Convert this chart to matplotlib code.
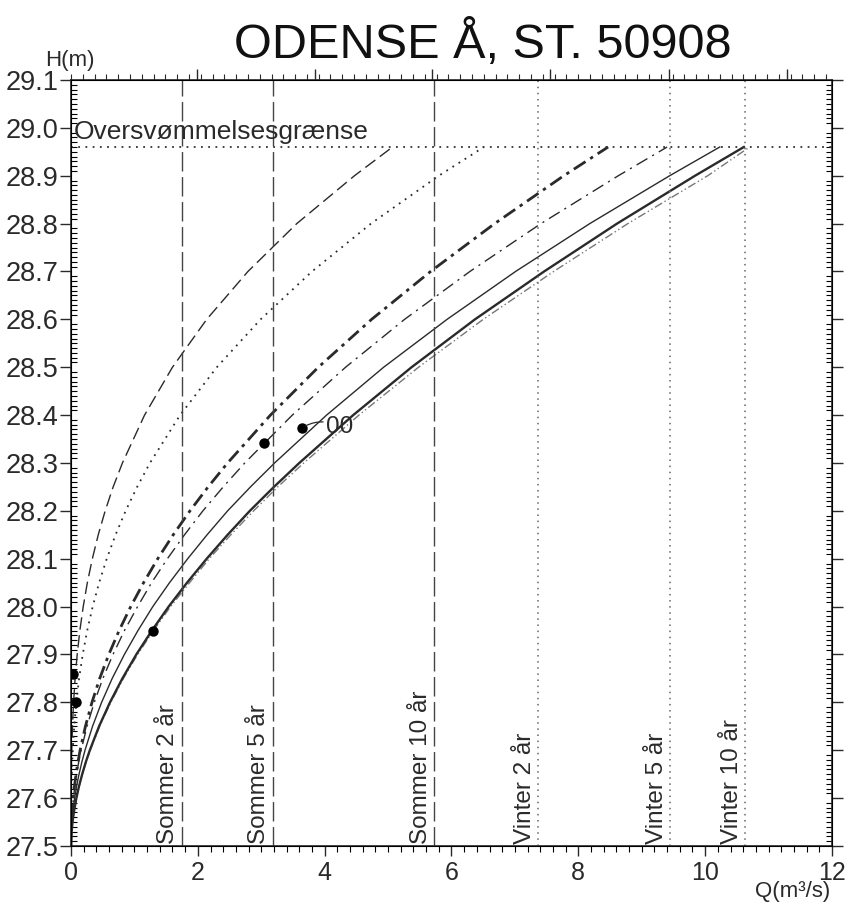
import matplotlib
matplotlib.use('Agg')
import matplotlib.pyplot as plt
from matplotlib.ticker import MultipleLocator, FixedLocator, FormatStrFormatter

plt.rcParams['font.family'] = ['Liberation Sans', 'DejaVu Sans']

h_levels = [27.5, 27.51, 27.525, 27.55, 27.575, 27.6, 27.625, 27.65, 27.675,
            27.7, 27.75, 27.8, 27.85, 27.9, 27.95, 28.0, 28.05, 28.1, 28.15,
            28.2, 28.25, 28.3, 28.4, 28.5, 28.6, 28.7, 28.8, 28.9, 28.96]

# discharge (m3/s) of each curve at those levels
q_dashed = [0, 0, 0, 0, 0.0006, 0.001, 0.0028, 0.005, 0.0079,
            0.012, 0.023, 0.041, 0.065, 0.098, 0.140, 0.193, 0.258, 0.337, 0.430,
            0.539, 0.665, 0.811, 1.16, 1.60, 2.14, 2.79, 3.56, 4.47, 5.07]
q_dotted = [0, 0, 0.0001, 0.001, 0.0019, 0.004, 0.0076, 0.013, 0.019,
            0.028, 0.051, 0.084, 0.128, 0.185, 0.256, 0.342, 0.444, 0.564, 0.703,
            0.862, 1.043, 1.245, 1.72, 2.30, 2.99, 3.80, 4.73, 5.80, 6.51]
q_dashdot_thick = [0, 0.0003, 0.0021, 0.008, 0.019, 0.035, 0.055, 0.080, 0.109,
                   0.144, 0.228, 0.331, 0.453, 0.596, 0.759, 0.942, 1.145, 1.368, 1.612,
                   1.876, 2.162, 2.469, 3.145, 3.90, 4.74, 5.67, 6.68, 7.77, 8.47]
q_dashdot_thin = [0, 0.0003, 0.0023, 0.009, 0.021, 0.039, 0.061, 0.089, 0.121,
                  0.160, 0.253, 0.367, 0.503, 0.662, 0.843, 1.05, 1.271, 1.52, 1.79,
                  2.08, 2.40, 2.74, 3.49, 4.33, 5.26, 6.29, 7.41, 8.63, 9.40]
q_solid_thin = [0, 0.0007, 0.004, 0.015, 0.033, 0.058, 0.089, 0.127, 0.171,
                0.221, 0.340, 0.483, 0.650, 0.842, 1.056, 1.29, 1.554, 1.84, 2.146,
                2.47, 2.83, 3.21, 4.03, 4.93, 5.93, 7.01, 8.18, 9.44, 10.23]
q_solid_thick = [0, 0.0013, 0.007, 0.024, 0.051, 0.085, 0.127, 0.177, 0.233,
                 0.297, 0.443, 0.615, 0.811, 1.03, 1.276, 1.54, 1.83, 2.14, 2.47,
                 2.82, 3.20, 3.60, 4.45, 5.37, 6.37, 7.46, 8.61, 9.84, 10.61]
q_dashdotdot = [0, 0.0013, 0.0071, 0.025, 0.052, 0.087, 0.130, 0.180, 0.238,
                0.303, 0.452, 0.627, 0.827, 1.05, 1.30, 1.57, 1.87, 2.18, 2.52,
                2.88, 3.26, 3.67, 4.54, 5.48, 6.50, 7.61, 8.78, 10.04, 10.70]

# measured points
obs_q = [0.03, 0.08, 1.29, 3.04, 3.64]
obs_h = [27.86, 27.80, 27.95, 28.342, 28.373]

# design discharges
design_labels = ['Sommer 2 år', 'Sommer 5 år', 'Sommer 10 år',
                 'Vinter 2 år', 'Vinter 5 år', 'Vinter 10 år']
design_q = [1.75, 3.18, 5.73, 7.37, 9.45, 10.63]

flood_level = 28.96

fig = plt.figure(figsize=(8.47, 9.08), dpi=100)
ax = fig.add_axes([0.0838, 0.0683, 0.8985, 0.8436])

ink = '#2a2a2a'
ax.plot(q_dashed, h_levels, color=ink, lw=1.0, ls=(0, (9, 4)))
ax.plot(q_dotted, h_levels, color=ink, lw=1.3, ls=(0, (1, 3)))
ax.plot(q_dashdot_thick, h_levels, color=ink, lw=2.0, ls=(0, (5, 2, 1.2, 2)))
ax.plot(q_dashdot_thin, h_levels, color=ink, lw=1.0, ls=(0, (9, 4, 1.5, 4)))
ax.plot(q_solid_thin, h_levels, color=ink, lw=1.0)
ax.plot(q_dashdotdot, h_levels, color='#777777', lw=1.0, ls=(0, (6, 2, 1, 2, 1, 2)))
ax.plot(q_solid_thick, h_levels, color=ink, lw=1.7)

ax.plot(obs_q, obs_h, 'o', color='black', ms=6.5)
ax.annotate('00', xy=(obs_q[-1], obs_h[-1]), xytext=(4.02, 28.375),
            fontsize=17.5, va='center', ha='left', color=ink,
            arrowprops=dict(arrowstyle='-', color=ink, lw=0.9,
                            connectionstyle='arc3,rad=0.3', shrinkA=0, shrinkB=3))

# flood limit
ax.axhline(flood_level, color='#333333', lw=1.3, ls=(0, (1, 3)))
ax.text(0.04, flood_level + 0.006, 'Oversvømmelsesgrænse', fontsize=19,
        va='bottom', ha='left', color=ink)

for lab, q in zip(design_labels, design_q):
    if lab.startswith('Sommer'):
        ax.axvline(q, color='#444444', lw=1.0, ls=(0, (14, 4)))
    else:
        ax.axvline(q, color='#666666', lw=1.1, ls=(0, (1, 3)))
    ax.text(q - 0.04, 27.505, lab, rotation=90, ha='right', va='bottom',
            fontsize=17.5, color=ink)

ax.set_xlim(0, 12)
ax.set_ylim(27.5, 29.1)

ax.xaxis.set_major_locator(MultipleLocator(2))
ax.xaxis.set_minor_locator(MultipleLocator(0.2))
ax.yaxis.set_major_locator(MultipleLocator(0.1))
ax.yaxis.set_minor_locator(MultipleLocator(0.01))
ax.yaxis.set_major_formatter(FormatStrFormatter('%.1f'))

ax.tick_params(axis='y', which='major', labelsize=19.5, colors=ink,
               direction='out', length=8, width=1, left=True, right=True, pad=1)
ax.tick_params(axis='y', which='minor', direction='in', length=4, width=0.8,
               left=True, right=True)
ax.tick_params(axis='x', which='major', labelsize=18, colors=ink,
               direction='out', length=7, width=1, top=False, bottom=True, pad=4)
ax.tick_params(axis='x', which='minor', direction='out', length=4, width=0.8,
               top=False, bottom=True)

for sp in ax.spines.values():
    sp.set_color(ink)
    sp.set_linewidth(1.2)

# top scale (unlabelled)
top = ax.twiny()
top.set_xlim(0, 12)
top_major = [1.98, 3.84, 5.70, 7.55, 9.43, 11.29]
top.xaxis.set_major_locator(FixedLocator(top_major))
top.xaxis.set_minor_locator(MultipleLocator(0.186))
top.tick_params(axis='x', which='major', direction='out', length=8, width=1,
                labeltop=False, colors=ink)
top.tick_params(axis='x', which='minor', direction='out', length=4, width=0.8,
                colors=ink)

fig.text(45 / 847, 1 - 66 / 908, 'H(m)', fontsize=16, color=ink, va='baseline')
fig.text(830 / 847, 1 - 897 / 908, 'Q(m³/s)', fontsize=16, color=ink,
         ha='right', va='baseline')
fig.text(483 / 847, 1 - 58 / 908, 'ODENSE Å, ST. 50908', fontsize=35,
         ha='center', va='baseline', color='#111111')

fig.savefig('out.png', dpi=100, facecolor='white')
